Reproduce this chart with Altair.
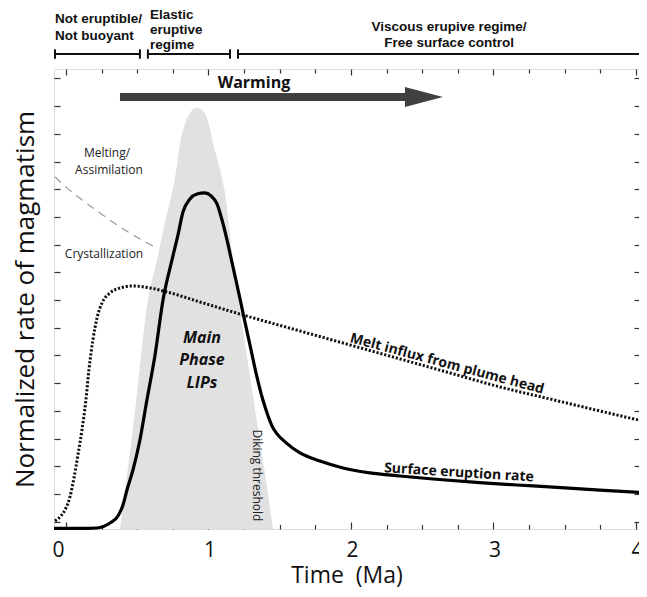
import altair as alt
import pandas as pd

# ---------------- data ----------------
# Surface eruption rate (solid curve)
erupt_t = [-0.084, 0.098, 0.218, 0.309, 0.365, 0.400, 0.428, 0.470, 0.519, 0.568,
           0.625, 0.681, 0.744, 0.786, 0.821, 0.870, 0.919, 0.975, 1.018, 1.060,
           1.095, 1.130, 1.158, 1.200, 1.242, 1.291, 1.340, 1.382, 1.411, 1.446,
           1.481, 1.537, 1.642, 1.782, 1.944, 2.133, 2.344, 2.575, 2.926, 3.277,
           3.747, 4.077]
erupt_v = [-0.245, -0.245, -0.227, -0.047, 0.206, 0.603, 1.144, 1.866, 2.949, 4.393,
           6.018, 8.004, 9.448, 10.35, 11.18, 11.65, 11.83, 11.87, 11.76, 11.47,
           10.89, 10.17, 9.52, 8.55, 7.54, 6.38, 5.23, 4.39, 3.92, 3.45,
           3.17, 2.88, 2.48, 2.19, 1.94, 1.76, 1.65, 1.54, 1.40, 1.29,
           1.14, 1.04]

# Melt influx from plume head (dotted curve)
melt_t = [-0.077, -0.042, 0.000, 0.028, 0.056, 0.084, 0.112, 0.140, 0.161, 0.189,
          0.218, 0.253, 0.309, 0.379, 0.470, 0.589, 0.709, 0.940, 1.242, 1.642,
          1.993, 2.344, 2.695, 3.046, 3.396, 3.747, 4.077]
melt_v = [0.025, 0.170, 0.495, 0.892, 1.578, 2.408, 3.310, 4.393, 5.477, 6.560,
          7.354, 7.895, 8.256, 8.437, 8.509, 8.437, 8.292, 7.931, 7.462, 6.884,
          6.379, 5.874, 5.368, 4.863, 4.430, 3.996, 3.599]

# Main phase LIPs envelope (grey area)
dike_t = [0.379, 0.477, 0.575, 0.639, 0.695, 0.744, 0.779, 0.800, 0.828, 0.870,
          0.912, 0.954, 0.996, 1.032, 1.074, 1.116, 1.172, 1.242, 1.312, 1.382,
          1.453]
dike_v = [-0.264, 3.67, 8.00, 9.45, 10.82, 11.86, 12.87, 13.67, 14.25, 14.75,
          14.93, 14.86, 14.47, 13.67, 12.84, 11.86, 9.45, 6.92, 4.57, 2.23,
          -0.264]

# Melting / crystallization boundary (grey dashed)
cryst_t = [-0.077, 0.007, 0.239, 0.470, 0.611]
cryst_v = [12.44, 12.05, 11.14, 10.35, 9.95]

# Regime bars above the plot
regime_start = [-0.077, 0.575, 1.207]
regime_end = [0.519, 1.151, 4.077]
regime_level = 16.88

# Warming arrow
arrow_start = 0.379
arrow_end = 2.379
arrow_head = 2.512
arrow_level = 15.33

# Axis ticks
x_major = [0, 1, 2, 3, 4]
x_minor = [0.25, 0.5, 0.75, 1.25, 1.5, 1.75, 2.25, 2.5, 2.75,
           3.25, 3.5, 3.75]
y_ticks = list(range(17))

X_DOMAIN = [-0.084, 4.021]
Y_DOMAIN = [-0.264, 16.34]
W, H = 585, 460
FONT = "Open Sans"

xs = alt.Scale(domain=X_DOMAIN, nice=False, zero=False)
ys = alt.Scale(domain=Y_DOMAIN, nice=False, zero=False)

curve_df = pd.DataFrame({"t": erupt_t, "v": erupt_v})
melt_df = pd.DataFrame({"t": melt_t, "v": melt_v})
dike_df = pd.DataFrame({"t": dike_t, "v": dike_v, "base": [Y_DOMAIN[0]] * len(dike_t)})
cryst_df = pd.DataFrame({"t": cryst_t, "v": cryst_v})
regime_df = pd.DataFrame({"s": regime_start, "e": regime_end,
                          "y": [regime_level] * 3})
caps_df = pd.DataFrame({"x": regime_start + regime_end,
                        "y1": [regime_level - 0.17] * 6,
                        "y2": [regime_level + 0.17] * 6})
arrow_df = pd.DataFrame({"s": [arrow_start], "e": [arrow_end], "y": [arrow_level]})
head_df = pd.DataFrame({"x": [arrow_head], "y": [arrow_level]})

NOAX = None


def X(field, axis=NOAX):
    return alt.X(f"{field}:Q", scale=xs, axis=axis)


def Y(field, axis=NOAX):
    return alt.Y(f"{field}:Q", scale=ys, axis=axis)


layers = []

# grey area
layers.append(
    alt.Chart(dike_df).mark_area(color="#e1e1e1", interpolate="monotone").encode(
        x=X("t", alt.Axis(orient="bottom", values=x_major, ticks=False, domain=False,
                          grid=False, labelFontSize=21, labelFont=FONT,
                          labelColor="#111", labelPadding=10,
                          labelOffset={"condition": {"test": "datum.value == 0",
                                                     "value": -8},
                                       "value": 1},
                          title="Time \u00a0(Ma)",
                          titleFont=FONT, titleFontSize=23, titleFontWeight="normal",
                          titleColor="#111", titlePadding=4)),
        y=Y("v", alt.Axis(orient="left", ticks=False, labels=False, domain=False,
                          grid=False, title="Normalized rate of magmatism",
                          titleFont=FONT, titleFontSize=26, titleFontWeight="normal",
                          titleColor="#111", titlePadding=16)),
        y2="base:Q",
    )
)

# dashed boundary
layers.append(
    alt.Chart(cryst_df).mark_line(color="#9a9a9a", strokeWidth=1.2, strokeDash=[8, 6],
                                  interpolate="monotone").encode(
        x=X("t"), y=Y("v"))
)

# dotted melt influx
layers.append(
    alt.Chart(melt_df).mark_line(color="#111", strokeWidth=3, strokeDash=[2.2, 1.8],
                                 interpolate="monotone").encode(
        x=X("t", alt.Axis(orient="top", offset=-H, values=x_major, tickSize=7,
                          tickWidth=1.2, tickColor="#333", labels=False, domain=False,
                          grid=False, title=None)),
        y=Y("v", alt.Axis(orient="right", offset=-W, values=y_ticks, tickSize=6,
                          tickWidth=1.2, tickColor="#333", labels=False, domain=False,
                          grid=False, title=None)),
    )
)

# solid eruption rate
layers.append(
    alt.Chart(curve_df).mark_line(color="#000", strokeWidth=3.2,
                                  interpolate="monotone").encode(
        x=X("t", alt.Axis(orient="top", offset=-H, values=x_minor, tickSize=4.5,
                          tickWidth=1.2, tickColor="#333", labels=False, domain=False,
                          grid=False, title=None)),
        y=Y("v", alt.Axis(orient="left", offset=-W, values=y_ticks, tickSize=5,
                          tickWidth=1.2, tickColor="#333", labels=False, domain=False,
                          grid=False, title=None)),
    )
)

# regime bars
layers.append(
    alt.Chart(regime_df).mark_rule(color="#111", strokeWidth=2).encode(
        x=X("s", alt.Axis(orient="bottom", offset=-H, values=x_major, tickSize=6,
                          tickWidth=1.2, tickColor="#333", labels=False, domain=False,
                          grid=False, title=None)),
        x2="e:Q", y=Y("y"))
)
layers.append(
    alt.Chart(caps_df).mark_rule(color="#111", strokeWidth=2).encode(
        x=X("x", alt.Axis(orient="bottom", offset=-H, values=x_minor, tickSize=4,
                          tickWidth=1.2, tickColor="#333", labels=False, domain=False,
                          grid=False, title=None)),
        y=Y("y1"), y2="y2:Q")
)

# warming arrow
layers.append(
    alt.Chart(arrow_df).mark_rule(color="#404040", strokeWidth=8).encode(
        x=X("s"), x2="e:Q", y=Y("y"))
)
layers.append(
    alt.Chart(head_df).mark_point(shape="M -1 -0.53 L 1 0 L -1 0.53 Z", size=1444,
                                  filled=True, color="#404040", opacity=1,
                                  strokeWidth=0).encode(
        x=X("x"), y=Y("y"))
)


def text_layer(rows, **kw):
    df = pd.DataFrame(rows, columns=["x", "y", "label"])
    return alt.Chart(df).mark_text(**kw).encode(x=X("x"), y=Y("y"), text="label:N")


layers.append(text_layer([[1.319, 15.84, "Warming"]], font=FONT, fontSize=16,
                         fontWeight="bold", color="#111", baseline="middle"))

# regime labels
layers.append(text_layer([[-0.077, 18.13, "Not eruptible/"],
                          [-0.077, 17.53, "Not buoyant"],
                          [0.589, 18.30, "Elastic"],
                          [0.589, 17.76, "eruptive"],
                          [0.589, 17.22, "regime"]],
                         font="Liberation Sans", fontSize=13.5, fontWeight="bold",
                         color="#111", align="left", baseline="middle"))
layers.append(text_layer([[2.688, 17.86, "Viscous erupive regime/"],
                          [2.688, 17.28, "Free surface control"]],
                         font="Liberation Sans", fontSize=13.5, fontWeight="bold",
                         color="#111", align="center", baseline="middle"))

# small annotations
layers.append(text_layer([[0.288, 13.31, "Melting/"],
                          [0.302, 12.69, "Assimilation"],
                          [0.267, 9.66, "Crystallization"]],
                         font=FONT, fontSize=12, color="#222", baseline="middle"))
layers.append(text_layer([[0.954, 6.63, "Main"],
                          [0.954, 5.84, "Phase"],
                          [0.954, 5.01, "LIPs"]],
                         font=FONT, fontSize=16, fontWeight="bold", fontStyle="italic",
                         color="#111", baseline="middle"))
layers.append(text_layer([[1.338, 1.67, "Diking threshold"]],
                         font=FONT, fontSize=12, color="#222", angle=90,
                         baseline="middle"))
layers.append(text_layer([[2.674, 5.69, "Melt influx from plume head"]],
                         font=FONT, fontSize=14, fontWeight="bold", color="#111",
                         angle=15, baseline="middle"))
layers.append(text_layer([[2.758, 1.76, "Surface eruption rate"]],
                         font=FONT, fontSize=14, fontWeight="bold", color="#111",
                         angle=3.5, baseline="middle"))

chart = alt.layer(*layers).resolve_axis(x="independent", y="independent").properties(
    width=W, height=H,
    autosize=alt.AutoSizeParams(type="none"),
    padding={"left": 46, "top": 61, "right": 0, "bottom": 59},
).configure_view(stroke="#222", strokeWidth=1.4).configure(background="white")

chart.save("out.html", embed_options={"renderer": "svg", "actions": False})
